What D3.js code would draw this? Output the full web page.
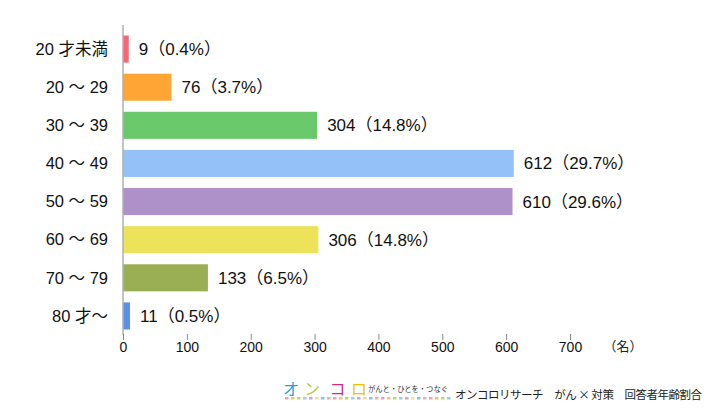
<!DOCTYPE html>
<html><head><meta charset="utf-8">
<script src="https://cdn.jsdelivr.net/npm/d3@7"></script>
<style>
html,body{margin:0;padding:0;background:#fff;}
svg{display:block;font-family:"Liberation Sans","Noto Sans CJK JP",sans-serif;}
</style></head>
<body>
<svg id="c" width="720" height="411"></svg>
<script>
const categories = ["20 才未満","20 ～ 29","30 ～ 39","40 ～ 49","50 ～ 59","60 ～ 69","70 ～ 79","80 才～"];
const counts = [9, 76, 304, 612, 610, 306, 133, 11];
const percents = ["0.4%","3.7%","14.8%","29.7%","29.6%","14.8%","6.5%","0.5%"];
const colors = ["#FF6473","#FFA535","#69C96B","#94C2F8","#AE91C9","#EDE35B","#9AAF53","#5B91E5"];
const tickValues = [0,100,200,300,400,500,600,700];
const unitLabel = "（名）";
const footerText = "オンコロリサーチ　がん × 対策　回答者年齢割合";
const logoChars = ["オ","ン","コ","ロ"];
const logoColors = ["#1E9FD8","#A9CF3A","#D8287F","#F3C000"];
const logoTagline = "がんと・ひとを・つなぐ";
const dotColors = ["#F2A0B0","#F6C36B","#B8D87A","#9CCBF0","#C7A9D9","#EDE38A","#7FC6E8","#F0B0A0"];

const svg = d3.select("#c");
const x = d3.scaleLinear().domain([0,700]).range([123,570]);
const y = d3.scaleBand().domain(categories).range([30,335]).paddingInner(0.29).paddingOuter(0.145);

// bars
svg.append("g").selectAll("rect").data(categories).join("rect")
  .attr("x", x(0)+0.5)
  .attr("y", d => y(d))
  .attr("width", (d,i) => Math.max(0, x(counts[i]) - x(0) - 0.5))
  .attr("height", y.bandwidth())
  .attr("fill", (d,i) => colors[i]);

// vertical axis line
svg.append("line").attr("x1", x(0)).attr("x2", x(0)).attr("y1", 25).attr("y2", 335)
  .attr("stroke", "#888").attr("stroke-width", 1);

// category labels
svg.append("g").selectAll("text").data(categories).join("text")
  .attr("x", 108).attr("y", d => y(d) + y.bandwidth()/2)
  .attr("dy", "0.35em").attr("text-anchor", "end")
  .attr("font-size", 16.5).attr("fill", "#111")
  .text(d => d);

// value labels
svg.append("g").selectAll("text").data(categories).join("text")
  .attr("x", (d,i) => x(counts[i]) + 10).attr("y", d => y(d) + y.bandwidth()/2)
  .attr("dy", "0.35em")
  .attr("font-size", 17).attr("fill", "#111")
  .text((d,i) => counts[i] + "（" + percents[i] + "）");

// x axis
const ax = svg.append("g").attr("transform", "translate(0,334)")
  .call(d3.axisBottom(x).tickValues(tickValues).tickSize(6).tickPadding(2).tickFormat(d3.format("d")));
ax.select(".domain").remove();
ax.selectAll(".tick line").attr("stroke", "#888");
ax.selectAll(".tick text").attr("font-size", 14).attr("fill", "#111")
  .attr("font-family", "Liberation Sans, Noto Sans CJK JP, sans-serif");
svg.append("text").attr("x", 623).attr("y", 346).attr("dy","0.35em")
  .attr("text-anchor","middle").attr("font-size", 13).attr("fill","#222").text(unitLabel);

// footer logo
const logoX = [291, 312, 337.5, 359];
const lg = svg.append("g");
lg.selectAll("text.l").data(logoChars).join("text").attr("class","l")
  .attr("x", (d,i) => logoX[i]).attr("y", 394.5).attr("text-anchor","middle")
  .attr("font-size", 16).attr("fill", (d,i) => logoColors[i])
  .attr("font-family","Noto Sans CJK JP, sans-serif")
  .text(d => d);
lg.append("text").attr("x", 368).attr("y", 392).attr("font-size", 7.5).attr("fill","#333")
  .attr("textLength", 80).attr("lengthAdjust","spacingAndGlyphs")
  .attr("font-family","Noto Sans CJK JP, sans-serif").text(logoTagline);
lg.selectAll("rect").data(d3.range(28)).join("rect")
  .attr("x", d => 285 + d*6).attr("y", 397).attr("width", 3.5).attr("height", 2.5)
  .attr("fill", d => dotColors[d % dotColors.length]);

svg.append("text").attr("x", 455).attr("y", 395).attr("dy","0.35em")
  .attr("font-size", 11.5).attr("fill","#222")
  .attr("textLength", 247).attr("lengthAdjust","spacing")
  .attr("font-family","Noto Sans CJK JP, sans-serif")
  .text(footerText);
</script>
</body></html>
